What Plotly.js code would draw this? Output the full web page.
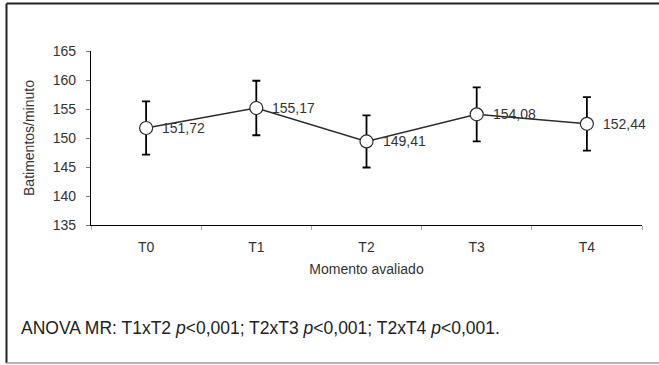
<!DOCTYPE html>
<html><head><meta charset="utf-8">
<script src="https://cdn.plot.ly/plotly-3.0.1.min.js"></script>
<style>body{margin:0;padding:0;background:#fff}#chart{width:659px;height:365px}</style>
</head><body><div id="chart"></div>
<script>
const categories = ["T0","T1","T2","T3","T4"];
const means = [151.72, 155.17, 149.41, 154.08, 152.44];
const errors = [4.6, 4.7, 4.5, 4.65, 4.6];
const labels = ["151,72","155,17","149,41","154,08","152,44"];
const yTicks = [135,140,145,150,155,160,165];
const footnote = "ANOVA MR: T1xT2 <i>p</i><0,001; T2xT3 <i>p</i><0,001; T2xT4 <i>p</i><0,001.";

const font = "Liberation Sans, Arial, sans-serif";
const trace = {
  x: categories, y: means, type: "scatter", mode: "lines+markers",
  line: {color: "#2b2b2b", width: 1.5},
  marker: {size: 13, color: "#ffffff", line: {color: "#2b2b2b", width: 1.2}},
  error_y: {type: "data", array: errors, visible: true, color: "#000000", thickness: 1.8, width: 4},
  hoverinfo: "none"
};
const annotations = categories.map((c, i) => ({
  x: c, y: means[i], xref: "x", yref: "y", text: labels[i], showarrow: false,
  xanchor: "left", yanchor: "middle", xshift: 14,
  font: {family: font, size: 14, color: "#333333"}
}));
annotations.push({
  xref: "paper", yref: "paper", x: (19 - 91) / 551, y: (225 - 328) / 174,
  xanchor: "left", yanchor: "middle", showarrow: false, text: footnote,
  font: {family: font, size: 17.5, color: "#222222"}
});
const px = v => (v - 91) / 551, py = v => (225 - v) / 174;
const shapes = [
  {type: "line", xref: "paper", yref: "paper", x0: px(6.5), x1: px(6.5), y0: py(3.5), y1: py(363), line: {color: "#222", width: 2}},
  {type: "line", xref: "paper", yref: "paper", x0: px(6.5), x1: px(660), y0: py(3.5), y1: py(3.5), line: {color: "#222", width: 2}},
  {type: "line", xref: "paper", yref: "paper", x0: px(6.5), x1: px(660), y0: py(363), y1: py(363), line: {color: "#999", width: 1.5}}
];
const layout = {
  width: 659, height: 365,
  margin: {l: 91, r: 17, t: 51, b: 140},
  paper_bgcolor: "#fff", plot_bgcolor: "#fff",
  showlegend: false,
  font: {family: font, size: 14, color: "#333"},
  xaxis: {
    type: "category", range: [-0.5, 4.5], tickson: "boundaries",
    showline: true, linecolor: "#000", linewidth: 1.2, showgrid: false, zeroline: false,
    ticks: "outside", ticklen: 4, tickcolor: "#aaa", tickwidth: 1,
    ticklabelstandoff: 9,
    tickfont: {family: font, size: 14, color: "#333"},
    title: {text: "Momento avaliado", font: {family: font, size: 14, color: "#333"}, standoff: 10}
  },
  yaxis: {
    range: [135, 165], tickvals: yTicks, ticktext: yTicks.map(String),
    showline: true, linecolor: "#000", linewidth: 1.2, showgrid: false, zeroline: false,
    ticks: "outside", ticklen: 4, tickcolor: "#777", tickwidth: 1,
    ticklabelstandoff: 7,
    tickfont: {family: font, size: 14, color: "#333"},
    title: {text: "Batimentos/minuto", font: {family: font, size: 14, color: "#333"}, standoff: 14}
  },
  annotations: annotations,
  shapes: shapes
};
Plotly.newPlot("chart", [trace], layout, {displayModeBar: false, staticPlot: true});
</script></body></html>
